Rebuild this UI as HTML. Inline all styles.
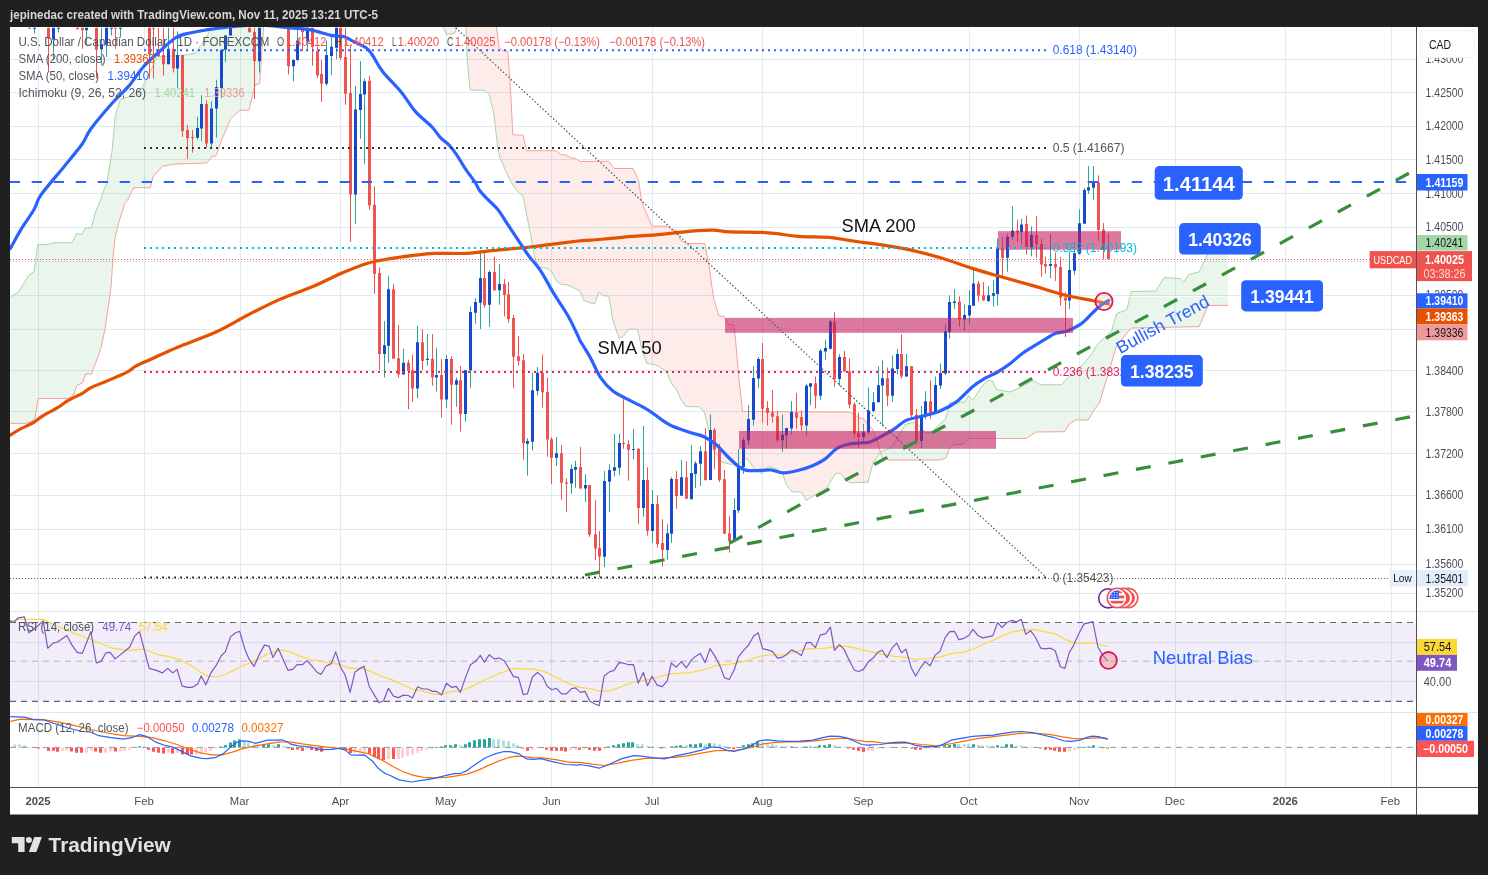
<!DOCTYPE html>
<html lang="en"><head><meta charset="utf-8"><title>USDCAD chart</title>
<style>html,body{margin:0;padding:0;background:#202020;overflow:hidden}svg{display:block;will-change:transform}text{font-family:"Liberation Sans", Arial, sans-serif;white-space:pre}</style></head><body>
<svg width="1488" height="875" viewBox="0 0 1488 875">
<defs>
<clipPath id="cm"><rect x="10" y="27" width="1406.5" height="584.5"/></clipPath>
<clipPath id="cr"><rect x="10" y="611.5" width="1406.5" height="100.9"/></clipPath>
<clipPath id="cd"><rect x="10" y="712.4" width="1406.5" height="74.9"/></clipPath>
</defs>
<rect width="1488" height="875" fill="#202020"/>
<rect x="10" y="27" width="1468" height="787.5" fill="#ffffff"/>
<g stroke="#e0eaf2" stroke-width="1" shape-rendering="crispEdges">
<line x1="38.5" y1="27" x2="38.5" y2="787.3"/>
<line x1="144.4" y1="27" x2="144.4" y2="787.3"/>
<line x1="240.3" y1="27" x2="240.3" y2="787.3"/>
<line x1="340.4" y1="27" x2="340.4" y2="787.3"/>
<line x1="446.4" y1="27" x2="446.4" y2="787.3"/>
<line x1="551.8" y1="27" x2="551.8" y2="787.3"/>
<line x1="652.2" y1="27" x2="652.2" y2="787.3"/>
<line x1="762.4" y1="27" x2="762.4" y2="787.3"/>
<line x1="863.4" y1="27" x2="863.4" y2="787.3"/>
<line x1="969.7" y1="27" x2="969.7" y2="787.3"/>
<line x1="1079.4" y1="27" x2="1079.4" y2="787.3"/>
<line x1="1175.3" y1="27" x2="1175.3" y2="787.3"/>
<line x1="1285.6" y1="27" x2="1285.6" y2="787.3"/>
<line x1="1391.2" y1="27" x2="1391.2" y2="787.3"/>
<line x1="10" y1="59.3" x2="1416.5" y2="59.3"/>
<line x1="10" y1="92.4" x2="1416.5" y2="92.4"/>
<line x1="10" y1="126.3" x2="1416.5" y2="126.3"/>
<line x1="10" y1="159.4" x2="1416.5" y2="159.4"/>
<line x1="10" y1="193.3" x2="1416.5" y2="193.3"/>
<line x1="10" y1="227.2" x2="1416.5" y2="227.2"/>
<line x1="10" y1="261.2" x2="1416.5" y2="261.2"/>
<line x1="10" y1="295.2" x2="1416.5" y2="295.2"/>
<line x1="10" y1="329.6" x2="1416.5" y2="329.6"/>
<line x1="10" y1="370.2" x2="1416.5" y2="370.2"/>
<line x1="10" y1="411.4" x2="1416.5" y2="411.4"/>
<line x1="10" y1="453.2" x2="1416.5" y2="453.2"/>
<line x1="10" y1="495" x2="1416.5" y2="495"/>
<line x1="10" y1="529.1" x2="1416.5" y2="529.1"/>
<line x1="10" y1="564" x2="1416.5" y2="564"/>
<line x1="10" y1="593.3" x2="1416.5" y2="593.3"/>
<line x1="10" y1="642.3" x2="1416.5" y2="642.3"/>
<line x1="10" y1="681.5" x2="1416.5" y2="681.5"/>
</g>
<g clip-path="url(#cm)">
<polygon points="10.3,297 18.5,291.9 28.8,275.4 34,271.3 36,257.9 37.7,244.5 48.4,244.5 53.5,242.7 72,242.7 76.5,233.6 81.9,234.2 85.4,228.1 91.2,228.1 95.7,211.6 100.8,199.3 103.9,190 107,182.5 112,151.7 115.2,116.7 120.4,99.2 131.7,96.1 142,87.9 152.3,67.3 156.4,57 185.2,55 195.5,52.9 205.8,38.5 209.9,30.3 211,26 263.6,26 263.6,26 263.4,30.3 259.7,83.8 255.1,84.8 249,110 239.7,110.5 230.5,118.8 221.2,141.4 216,155.8 211.9,156.8 206.8,163 174.9,164 162.6,166.1 153.3,176.4 150.2,187.7 133.7,187.7 132.7,190 127.6,200 124.5,204.4 118.3,224 114.8,239.4 112.8,260 111.1,286.7 109.1,301.1 104.9,329.9 100.8,348.4 96.7,360 93.6,368 91.6,374 86,374 82.3,383 77.2,385.1 73,396 67.9,398.5 38.1,398.5 35,418.6 30.9,421.7 25.7,423.4 10.3,423.4" fill="rgba(67,160,71,0.11)"/>
<polygon points="465.9,26 467.4,61.2 470,90 484.4,90.4 489.2,94.1 493.7,112.6 497.8,147.6 499.9,157.9 510.2,180.5 516.3,190 523.1,196.2 528.7,225 534.9,257.9 539,267.2 547.2,268.6 552.3,272.3 555.4,279.5 560.6,284.2 566.7,284.7 576,288.8 580,291.2 584.2,300.8 594.4,303.9 598.9,292.2 603.7,295.7 608.8,296.3 612.9,320 619.1,338.5 623.2,336.4 628.4,329.2 637.6,329.2 641.7,348.8 646.9,363.6 655.1,364.6 666.4,371.4 671.6,383.7 676.7,389.9 680.8,399.2 686,406.4 699.3,406.8 704.5,412.6 708.6,430 713.7,450.9 722,462.2 730.2,464.2 738.4,464.2 746.7,458.1 754.9,469.4 762.1,473.5 768.3,466.3 777.5,469.4 782.7,473.5 785.8,483.8 791.9,491.6 801.2,492 806.3,500.2 813.5,496.1 826.9,487.9 835.1,473.9 840.3,473.1 844.4,478.6 849.5,482.8 868.1,482.1 870,474.2 873.1,462.9 878.2,455.7 880.3,452 880.3,452 877.2,439.9 872.1,428.6 868.1,424.9 864,419.1 858.8,417.7 854.7,414.6 849.5,412.1 742.6,411.5 738.4,373.5 735.8,342.6 733.9,325.1 728.1,324.1 724,316.3 718.9,315.8 713.7,298.4 711.7,285 708.6,262.3 707.6,259 704.9,243.6 687,243.6 680.8,240.5 676.7,230.2 671.6,229.8 667.5,226.1 652,226.1 645.8,211.7 641.7,201.4 638.6,180.8 633.1,168.5 614,168.5 608.8,161.3 580.1,161.5 575,158.3 570.9,157.9 565.7,154.8 561.6,154.8 555.4,150.7 526.6,150.7 523.1,135.2 512.8,134.8 511.2,102.3 509.8,77.6 507.7,51.3 501.9,50.5 498.9,46.7 496.4,26" fill="rgba(244,67,54,0.10)"/>
<polygon points="442.3,26 446.4,34.4 454.6,33.4 457.7,26" fill="rgba(244,67,54,0.10)"/>
<polygon points="880.3,452 889.5,448.1 896.7,439.9 900.9,431.7 905,424.5 915.4,422 923.1,429.5 925,432.5 931.3,432.7 939,424.7 945.2,419.5 948.3,409.3 949.5,402.9 964.7,401.9 968.8,395.7 972.9,400.2 981.1,387.4 987.3,380.7 992.4,380.7 996.5,389.5 1009.9,392 1018.1,388.5 1032.6,380.7 1040.8,384.8 1061.4,384.8 1066.5,379.2 1086,361.3 1091.2,354.5 1098.2,343.5 1111.6,331.1 1116.7,313.6 1127,309.5 1131.2,291.6 1155.8,291 1164.1,277.6 1180.5,278.6 1183.6,282.3 1188.8,274.5 1199.1,271.9 1207.3,255 1214,241 1227.9,236 1227.9,305.4 1208.3,305.4 1199.1,326.6 1131.2,328 1116.7,345.5 1106.6,379.2 1099.4,402.9 1093.3,411.1 1088.1,420 1075.8,420 1069.6,423.5 1064.4,431.7 1035.6,432 1026.4,438.5 968.8,438.5 963.6,444 953.3,444.8 949.2,449.5 946.1,457.8 941,460 888.5,460 882.3,457.6 880.3,452" fill="rgba(67,160,71,0.11)"/>
<polyline points="10.3,297 18.5,291.9 28.8,275.4 34,271.3 36,257.9 37.7,244.5 48.4,244.5 53.5,242.7 72,242.7 76.5,233.6 81.9,234.2 85.4,228.1 91.2,228.1 95.7,211.6 100.8,199.3 103.9,190 107,182.5 112,151.7 115.2,116.7 120.4,99.2 131.7,96.1 142,87.9 152.3,67.3 156.4,57 185.2,55 195.5,52.9 205.8,38.5 209.9,30.3 211,26" fill="none" stroke="#a5d6a7" stroke-width="1"/>
<polyline points="10.3,423.4 25.7,423.4 30.9,421.7 35,418.6 38.1,398.5 67.9,398.5 73,396 77.2,385.1 82.3,383 86,374 91.6,374 93.6,368 96.7,360 100.8,348.4 104.9,329.9 109.1,301.1 111.1,286.7 112.8,260 114.8,239.4 118.3,224 124.5,204.4 127.6,200 132.7,190 133.7,187.7 150.2,187.7 153.3,176.4 162.6,166.1 174.9,164 206.8,163 211.9,156.8 216,155.8 221.2,141.4 230.5,118.8 239.7,110.5 249,110 255.1,84.8 259.7,83.8 263.4,30.3 263.6,26" fill="none" stroke="#f5a19b" stroke-width="1"/>
<polyline points="465.9,26 467.4,61.2 470,90 484.4,90.4 489.2,94.1 493.7,112.6 497.8,147.6 499.9,157.9 510.2,180.5 516.3,190 523.1,196.2 528.7,225 534.9,257.9 539,267.2 547.2,268.6 552.3,272.3 555.4,279.5 560.6,284.2 566.7,284.7 576,288.8 580,291.2 584.2,300.8 594.4,303.9 598.9,292.2 603.7,295.7 608.8,296.3 612.9,320 619.1,338.5 623.2,336.4 628.4,329.2 637.6,329.2 641.7,348.8 646.9,363.6 655.1,364.6 666.4,371.4 671.6,383.7 676.7,389.9 680.8,399.2 686,406.4 699.3,406.8 704.5,412.6 708.6,430 713.7,450.9 722,462.2 730.2,464.2 738.4,464.2 746.7,458.1 754.9,469.4 762.1,473.5 768.3,466.3 777.5,469.4 782.7,473.5 785.8,483.8 791.9,491.6 801.2,492 806.3,500.2 813.5,496.1 826.9,487.9 835.1,473.9 840.3,473.1 844.4,478.6 849.5,482.8 868.1,482.1 870,474.2 873.1,462.9 878.2,455.7 880.3,452" fill="none" stroke="#a5d6a7" stroke-width="1"/>
<polyline points="496.4,26 498.9,46.7 501.9,50.5 507.7,51.3 509.8,77.6 511.2,102.3 512.8,134.8 523.1,135.2 526.6,150.7 555.4,150.7 561.6,154.8 565.7,154.8 570.9,157.9 575,158.3 580.1,161.5 608.8,161.3 614,168.5 633.1,168.5 638.6,180.8 641.7,201.4 645.8,211.7 652,226.1 667.5,226.1 671.6,229.8 676.7,230.2 680.8,240.5 687,243.6 704.9,243.6 707.6,259 708.6,262.3 711.7,285 713.7,298.4 718.9,315.8 724,316.3 728.1,324.1 733.9,325.1 735.8,342.6 738.4,373.5 742.6,411.5 849.5,412.1 854.7,414.6 858.8,417.7 864,419.1 868.1,424.9 872.1,428.6 877.2,439.9 880.3,452" fill="none" stroke="#f5a19b" stroke-width="1"/>
<polyline points="442.3,26 446.4,34.4 454.6,33.4 457.7,26" fill="none" stroke="#a5d6a7" stroke-width="1"/>
<polyline points="880.3,452 889.5,448.1 896.7,439.9 900.9,431.7 905,424.5 915.4,422 923.1,429.5 925,432.5 931.3,432.7 939,424.7 945.2,419.5 948.3,409.3 949.5,402.9 964.7,401.9 968.8,395.7 972.9,400.2 981.1,387.4 987.3,380.7 992.4,380.7 996.5,389.5 1009.9,392 1018.1,388.5 1032.6,380.7 1040.8,384.8 1061.4,384.8 1066.5,379.2 1086,361.3 1091.2,354.5 1098.2,343.5 1111.6,331.1 1116.7,313.6 1127,309.5 1131.2,291.6 1155.8,291 1164.1,277.6 1180.5,278.6 1183.6,282.3 1188.8,274.5 1199.1,271.9 1207.3,255 1214,241 1227.9,236" fill="none" stroke="#a5d6a7" stroke-width="1"/>
<polyline points="880.3,452 882.3,457.6 888.5,460 941,460 946.1,457.8 949.2,449.5 953.3,444.8 963.6,444 968.8,438.5 1026.4,438.5 1035.6,432 1064.4,431.7 1069.6,423.5 1075.8,420 1088.1,420 1093.3,411.1 1099.4,402.9 1106.6,379.2 1116.7,345.5 1131.2,328 1199.1,326.6 1208.3,305.4 1227.9,305.4" fill="none" stroke="#f5a19b" stroke-width="1"/>
<line x1="1117" y1="296.5" x2="1241" y2="296.5" stroke="#ffffff" stroke-opacity=".8" stroke-width="1"/>
<path d="M34.5 27.8V33.4M53.5 27.8V60.1M58.5 27.8V32.3M86.5 27.8V44.7M101.5 27.8V65.3M106.5 27.8V57M111.5 27.8V35.4M120.5 27.8V37.5M168.5 27.8V64.2M177.5 31.3V87.9M197.5 116.7V139.3M201.5 95.1V141.4M211.5 101.3V148M216.5 79.7V137.7M221.5 49.8V98.2M225.5 35.4V62.2M230.5 27.8V35.4M259.5 27.8V72.5M293.5 59.1V81.3M297.5 27.8V61.2M307.5 27.8V49.8M326.5 40.6V85.8M331.5 36.5V75.1M336.5 27.8V59.1M355.5 85.8V224M360.5 61.2V138.9M364.5 78.6V164M384.5 321.1V377.5M388.5 276V362.7M403.5 348.8V374.4M417.5 325.8V398.5M427.5 334V365.6M436.5 348V391.5M446.5 355V407.7M456.5 377.5V406.7M465.5 370.3V421.7M470.5 306.3V387.8M475.5 298V323.7M480.5 250.3V328.9M489.5 270.2V326.8M499.5 264.1V304.8M527.5 438.2V475.6M532.5 372.8V450.5M537.5 367V395.6M556.5 437.2V466M571.5 464.3V493.7M575.5 460.8V488M585.5 474.2V502M604.5 471V567.1M609.5 464.2V512M614.5 434V476.6M619.5 434V475.1M633.5 429V459.1M643.5 425.9V516.7M652.5 490V542.8M667.5 524.3V559.9M671.5 477V542.8M681.5 460.1V495.7M691.5 445.1V499.2M695.5 461.2V487.9M700.5 446.1V485.8M710.5 414.6V480.1M734.5 498.2V540.4M738.5 449.2V513M743.5 437.5V473.9M748.5 405.3V445.1M753.5 366.3V425.6M758.5 357V387.9M782.5 414.6V451.9M786.5 428V448.8M791.5 401.2V434.4M806.5 383.7V435.8M810.5 383.3V405.3M820.5 348.8V400.2M825.5 339.9V360.1M830.5 320V349.8M839.5 353.9V385.8M863.5 423.9V443.7M868.5 387.4V434.8M873.5 392V412.1M878.5 366.3V402.3M882.5 360.3V425.5M892.5 355.6V401.9M897.5 349V374.5M906.5 353.9V376.5M921.5 406V448.1M925.5 391.2V419.3M935.5 376.5V412.8M940.5 363.4V388.9M945.5 324.1V375.1M949.5 295.3V338.5M954.5 289.2V309.3M964.5 304.6V330.9M969.5 290.2V323.7M973.5 270V305.8M988.5 286.1V301.9M993.5 279.9V306.7M997.5 238.4V305.6M1007.5 233.6V271.7M1012.5 206.3V239.8M1021.5 218.8V244.9M1031.5 226.4V256.3M1050.5 234.2V278.3M1069.5 251.1V309.3M1074.5 242.9V274.8M1079.5 209.3V254.8M1084.5 187.9V223.7M1088.5 166.1V193.9M1093.5 166.1V200.1" stroke="#26a69a" stroke-width="1" fill="none"/>
<path d="M29.5 27.8V28.6M48.5 27.8V71.4M77.5 27.8V29.3M82.5 27.8V48.8M96.5 27.8V78.6M115.5 27.8V48.8M149.5 27.8V78.6M153.5 27.8V78.6M158.5 27.8V57M163.5 27.8V75.6M173.5 27.8V72.5M182.5 55V136.9M187.5 124.9V158.9M192.5 130.1V152.7M206.5 100.2V148M249.5 27.8V32.3M254.5 27.8V99.2M288.5 27.8V74.5M302.5 27.8V50.9M312.5 27.8V65.7M317.5 46.7V78.2M321.5 60.1V101.9M340.5 27.8V60.1M345.5 27.8V104.8M350.5 44.7V241.9M369.5 75.6V210M374.5 186.3V293.9M379.5 267.2V369.9M393.5 284V358.7M398.5 325.2V377.5M408.5 359.8V409.4M412.5 354.6V401.8M422.5 329.3V369.9M432.5 334V385.7M441.5 359.1V417.6M451.5 356.3V424.8M460.5 365.9V431.6M484.5 250.3V307.7M494.5 256.9V290.8M504.5 279.1V316.5M508.5 282V322.7M513.5 314.9V387.8M518.5 336.1V365.6M523.5 354V459.8M542.5 354.6V407.7M547.5 377.5V456.7M551.5 437.2V483.9M561.5 445V499.9M566.5 478.3V511.9M580.5 447V488.6M589.5 485.1V536.9M595.5 500.2V559.9M599.5 531.1V577.4M623.5 399.2V448.8M628.5 440.2V480.7M638.5 447.8V523.9M647.5 467.3V535.6M657.5 495.1V547.6M662.5 519.2V566.7M676.5 471V508.9M686.5 461.2V498.8M705.5 428.2V480.7M714.5 428V469.4M719.5 443.7V482.1M724.5 470V533.8M729.5 516.1V552.7M762.5 343V422.7M767.5 401.2V425.6M772.5 389.9V422.7M777.5 411.5V441.6M796.5 393V428.6M801.5 410.5V430.7M815.5 376.5V408.4M834.5 312.1V386.8M844.5 350.8V371.4M849.5 358.4V408.4M854.5 402.3V437.5M858.5 412.6V447.8M887.5 367.5V406M901.5 334.4V378.6M911.5 366.3V420M916.5 409.1V444M930.5 380.2V418.9M959.5 296.4V326.7M978.5 280.9V301.5M983.5 282V300.5M1002.5 236.7V275.8M1017.5 219.8V242.3M1026.5 215.5V254.6M1036.5 216.1V257.7M1041.5 238.8V276.8M1045.5 256.9V273.7M1055.5 252.8V280.9M1060.5 257.3V305.6M1065.5 292.3V337M1098.5 175.4V240.8M1103.5 222.9V259.3M1108.5 233V259.3" stroke="#ef5350" stroke-width="1" fill="none"/>
<path d="M33 27.8h3v1h-3zM52 27.8h3v11.7h-3zM57 27.8h3v1h-3zM85 27.8h3v2.5h-3zM100 44.3h3v4.9h-3zM105 27.8h3v16.9h-3zM110 27.8h3v1h-3zM119 27.8h3v1h-3zM167 48.8h3v15.4h-3zM176 55h3v13.4h-3zM196 128h3v9.7h-3zM200 104h3v24.4h-3zM210 108.5h3v35h-3zM215 86.9h3v21.6h-3zM220 49.8h3v38.1h-3zM224 35.4h3v14.4h-3zM229 27.8h3v7.6h-3zM258 27.8h3v33.4h-3zM292 60.1h3v6.2h-3zM296 40.6h3v19.5h-3zM306 27.8h3v13.8h-3zM325 55h3v28.8h-3zM330 46.7h3v9.3h-3zM335 27.8h3v20h-3zM354 109.5h3v85h-3zM359 94.1h3v15.8h-3zM363 81.3h3v13.2h-3zM383 345.3h3v8.7h-3zM387 289.2h3v56.6h-3zM402 362.8h3v11.6h-3zM416 342.3h3v46.1h-3zM426 358.7h3v1.3h-3zM435 375h3v2.5h-3zM445 359.1h3v40.4h-3zM455 380.2h3v4.5h-3zM464 370.3h3v43.6h-3zM469 312h3v58.3h-3zM474 302.1h3v10.7h-3zM479 278.1h3v24.7h-3zM488 271.9h3v32.9h-3zM498 284h3v6.2h-3zM526 440.9h3v2.8h-3zM531 390.2h3v51.5h-3zM536 372.8h3v18.1h-3zM555 453.2h3v4.5h-3zM570 469.1h3v14.4h-3zM574 467h3v2.7h-3zM584 485.1h3v3.5h-3zM603 481.1h3v75.7h-3zM608 470h3v11.7h-3zM613 467.3h3v3.5h-3zM618 443h3v24.7h-3zM632 449h3v1h-3zM642 480.1h3v27.8h-3zM651 504h3v27.1h-3zM666 533.2h3v16.8h-3zM670 479.1h3v54.7h-3zM680 477.2h3v18.5h-3zM690 473.1h3v26.1h-3zM694 463.2h3v10.7h-3zM699 451.3h3v12.5h-3zM709 429.9h3v50.2h-3zM733 509.9h3v30.5h-3zM737 466.3h3v44.2h-3zM742 440.2h3v26.7h-3zM747 419.1h3v21.5h-3zM752 378h3v41.8h-3zM757 359.1h3v19.5h-3zM781 434.8h3v5.4h-3zM785 428h3v7.4h-3zM790 412.1h3v16.5h-3zM805 385.8h3v39.8h-3zM809 383.3h3v3.5h-3zM819 350.8h3v44.9h-3zM824 348.1h3v3.5h-3zM829 321.6h3v27.2h-3zM838 357h3v22h-3zM862 432.3h3v4.6h-3zM867 410.5h3v21.8h-3zM872 402.3h3v8.8h-3zM877 385.2h3v17.1h-3zM881 378.2h3v7.2h-3zM891 368.5h3v27.2h-3zM896 354.1h3v14.8h-3zM905 366.3h3v10.2h-3zM920 415.2h3v25.7h-3zM924 401.2h3v14.4h-3zM934 385h3v27.1h-3zM939 373h3v12.4h-3zM944 331.3h3v42.2h-3zM948 302.1h3v29.8h-3zM953 301.5h3v1.5h-3zM963 314.9h3v4.6h-3zM968 305.2h3v10.2h-3zM972 283.4h3v22.4h-3zM987 295.3h3v5.6h-3zM992 293.3h3v2.5h-3zM996 248h3v45.9h-3zM1006 236.7h3v21h-3zM1011 230.5h3v6.2h-3zM1020 224.4h3v7.6h-3zM1030 235.1h3v11.9h-3zM1049 264.1h3v2h-3zM1068 270h3v30.5h-3zM1073 253.2h3v17.5h-3zM1078 223.3h3v30.5h-3zM1083 190h3v33.7h-3zM1087 187.3h3v3.1h-3zM1092 182.6h3v5.1h-3z" fill="#1848cc"/>
<path d="M28 27.8h3v1h-3zM47 27.8h3v10.7h-3zM76 27.8h3v1.5h-3zM81 27.8h3v2.5h-3zM95 27.8h3v22h-3zM114 27.8h3v1h-3zM148 27.8h3v26.2h-3zM152 27.8h3v1h-3zM157 49.8h3v6.2h-3zM162 55h3v9.2h-3zM172 48.8h3v19.6h-3zM181 55h3v76.1h-3zM186 130.1h3v8.2h-3zM191 136.9h3v1h-3zM205 104h3v39.5h-3zM248 27.8h3v4.5h-3zM253 31.9h3v29.3h-3zM287 27.8h3v38.5h-3zM301 27.8h3v4.5h-3zM311 27.8h3v18.9h-3zM316 50.9h3v24.7h-3zM320 73.9h3v9.9h-3zM339 27.8h3v30.3h-3zM344 57h3v36.7h-3zM349 93h3v101.5h-3zM368 80.7h3v124.7h-3zM373 204.8h3v69.2h-3zM378 272.9h3v81.1h-3zM392 289.2h3v69.5h-3zM397 358.3h3v16.1h-3zM407 362.8h3v7.9h-3zM411 370.3h3v18.1h-3zM421 342.3h3v18.7h-3zM431 359.1h3v18.4h-3zM440 375h3v24.5h-3zM450 359.1h3v25.6h-3zM459 380.2h3v33.7h-3zM483 278.1h3v27.1h-3zM493 271.9h3v18.3h-3zM503 284h3v10.9h-3zM507 294.3h3v24.9h-3zM512 318h3v38.7h-3zM517 356.3h3v4.7h-3zM522 360.2h3v83.1h-3zM541 372.8h3v19.5h-3zM546 391.9h3v47.7h-3zM550 439.2h3v18.5h-3zM560 453.2h3v29.6h-3zM565 482.4h3v1.3h-3zM579 467h3v21.6h-3zM588 485.1h3v49.7h-3zM594 534.2h3v14.4h-3zM598 548h3v8.8h-3zM622 443h3v1.3h-3zM627 444.3h3v5.5h-3zM637 448.8h3v59.1h-3zM646 480.1h3v51h-3zM656 504h3v39.9h-3zM661 543h3v7h-3zM675 479.1h3v17h-3zM685 477.2h3v21.6h-3zM704 451.3h3v28.8h-3zM713 429.9h3v19.9h-3zM718 448.8h3v31.3h-3zM723 479.3h3v54.5h-3zM728 533.2h3v7.8h-3zM761 359.1h3v49.7h-3zM766 408h3v5h-3zM771 412.6h3v4.1h-3zM776 416.3h3v23.9h-3zM795 412.6h3v5.1h-3zM800 417.1h3v8.5h-3zM814 383.3h3v12.4h-3zM833 322h3v57h-3zM843 357h3v14.4h-3zM848 371.4h3v33.3h-3zM853 404.3h3v29.1h-3zM857 432.8h3v4.1h-3zM886 378.2h3v17.5h-3zM900 354.1h3v22.4h-3zM910 366.3h3v48.9h-3zM915 414.8h3v26.1h-3zM929 401.2h3v10.9h-3zM958 301.5h3v18h-3zM977 283.4h3v12.4h-3zM982 295.3h3v5.2h-3zM1001 248h3v9.7h-3zM1016 230.5h3v2.1h-3zM1025 224h3v23h-3zM1035 235.1h3v9.2h-3zM1040 243.9h3v20.6h-3zM1044 264.1h3v2.4h-3zM1054 264.1h3v3.5h-3zM1059 267h3v30.8h-3zM1064 297.4h3v3.1h-3zM1097 182.6h3v47.3h-3zM1102 229.5h3v19.6h-3zM1107 249.1h3v10.2h-3z" fill="#ef5350"/>
<path d="M10.3 435.1C12.0 434.1 16.8 430.9 20.6 428.9C24.4 426.8 29.1 425.0 32.9 422.8C36.7 420.6 39.1 418.1 43.2 415.6C47.3 413.1 53.5 410.2 57.6 407.7C61.7 405.2 63.8 403.1 67.9 400.7C72.0 398.3 78.5 395.4 82.3 393.3C86.1 391.2 86.4 389.9 90.5 387.8C94.6 385.8 100.8 383.6 107 381C113.2 378.4 122.8 374.4 127.6 371.9C132.4 369.4 131.8 368.3 135.8 366.2C139.8 364.1 144.6 362.1 151.5 359C158.4 355.9 166.2 351.9 177 347.4C187.8 342.9 204.3 337.3 216 332C227.7 326.7 237.3 320.5 246.9 315.5C256.5 310.5 266.5 305.5 273.7 302.1C280.9 298.7 283.2 298.0 290 295.3C296.8 292.6 306.1 289.4 314.7 285.7C323.3 282.0 332.8 277.0 341.4 273.3C350.0 269.6 358.2 266.1 366.1 263.7C374.0 261.3 380.9 260.3 388.8 258.9C396.7 257.5 406.0 256.3 413.5 255.4C421.0 254.5 425.1 253.7 434 253.4C442.9 253.1 458.4 253.8 467 253.4C475.6 253.1 479.0 252.0 485.5 251.3C492.0 250.6 499.5 249.9 506 249.3C512.5 248.7 517.7 248.3 524.6 247.6C531.5 246.9 538.3 246.0 547.2 244.9C556.1 243.8 571.0 241.8 578.1 241C585.2 240.2 584.5 240.6 590 240.2C595.5 239.8 604.0 239.0 610.9 238.4C617.8 237.8 623.5 237.0 631.4 236.4C639.3 235.8 650.7 235.3 658.2 234.7C665.8 234.1 670.2 233.4 676.7 232.7C683.2 232.0 691.1 231.0 697.3 230.6C703.5 230.2 708.2 230.0 713.7 230.2C719.2 230.4 722.3 231.6 730.2 231.9C738.1 232.2 753.2 232.0 761.1 232.3C769.0 232.6 771.3 233.0 777.5 233.7C783.7 234.4 789.5 235.8 798.1 236.4C806.7 237.0 820.8 236.8 829 237.4C837.2 238.0 841.7 239.2 847.5 240.1C853.3 241.0 858.6 241.8 864 242.6C869.4 243.3 872.1 243.3 880 244.6C887.9 245.8 900.9 247.8 911.2 250.1C921.5 252.4 931.7 255.2 942 258.3C952.3 261.4 963.6 265.7 972.9 268.6C982.2 271.5 987.3 272.9 997.6 275.8C1007.9 278.7 1023.3 282.9 1034.6 286.1C1045.9 289.4 1055.9 292.9 1065.5 295.3C1075.1 297.7 1085.0 299.1 1092.2 300.5C1099.4 301.9 1106.0 303.4 1108.7 304" fill="none" stroke="#e65100" stroke-width="3.2" stroke-linejoin="round" stroke-linecap="round"/>
<path d="M10.3 248.6C12.0 245.5 16.7 236.6 20.6 230.1C24.6 223.6 30.6 215.4 34 209.5C37.4 203.6 36.1 201.8 41 194.8C45.9 187.8 56.5 175.9 63.4 167.4C70.3 158.9 77.6 150.4 82.2 144C86.8 137.6 85.7 135.9 90.8 129C95.9 122.0 106.7 109.4 113 102.3C119.3 95.2 123.3 92.4 128.5 86.4C133.7 80.4 138.5 72.2 143.9 66.2C149.3 60.2 155.7 54.9 161 50.1C166.3 45.3 171.2 40.4 176 37.5C180.8 34.6 185.0 34.2 190 33C195.0 31.8 200.0 30.9 206 30C212.0 29.1 217.3 28.1 226 27.3C234.7 26.5 247.3 24.9 258 25C268.7 25.1 281.2 27.0 290 27.8C298.8 28.6 303.7 28.6 310.6 29.9C317.5 31.2 325.7 34.3 331.2 35.4C336.7 36.5 340.1 35.6 343.5 36.5C346.9 37.4 347.9 38.7 351.7 40.6C355.5 42.5 362.7 45.4 366.1 47.8C369.5 50.2 369.6 51.1 372.3 55C375.1 58.9 377.8 65.2 382.6 71.4C387.4 77.6 395.6 85.3 401.1 92C406.6 98.7 410.4 105.8 415.5 111.6C420.6 117.4 427.9 122.7 432 127C436.1 131.3 437.3 134.2 440.2 137.3C443.1 140.4 446.8 142.6 449.5 145.5C452.2 148.4 454.1 151.0 456.7 154.8C459.3 158.6 461.8 163.5 464.9 168.1C468.0 172.7 472.8 178.8 475.2 182.5C477.6 186.2 477.6 187.6 479.3 190C481.0 192.4 482.4 193.9 485.5 197.2C488.6 200.4 494.0 204.9 497.8 209.5C501.6 214.1 504.0 218.8 508.1 225C512.2 231.2 519.1 241.5 522.5 246.6C525.9 251.7 525.6 251.7 528.7 255.8C531.8 259.9 536.9 265.1 541 271.3C545.1 277.5 548.9 285.5 553.4 292.9C557.9 300.3 563.7 308.3 567.8 315.5C571.9 322.7 576.1 331.9 578.1 336.1C580.1 340.3 578.0 336.9 580 340.5C582.0 344.1 586.9 351.3 590.3 357.5C593.7 363.7 596.8 372.0 600.6 377.6C604.4 383.2 608.8 387.6 612.9 391C617.0 394.4 620.5 395.5 625.3 398.1C630.1 400.7 637.2 404.0 641.7 406.4C646.2 408.8 648.6 410.3 652 412.6C655.4 414.9 658.6 417.7 662 420C665.4 422.3 667.8 424.1 672.6 426.2C677.5 428.3 686.0 431.1 691.1 432.8C696.2 434.5 699.4 434.6 703.5 436.5C707.6 438.4 711.7 440.9 715.8 444.3C719.9 447.7 724.3 453.3 728.1 457C731.9 460.7 735.3 464.1 738.4 466.3C741.5 468.5 742.9 469.7 746.7 470.4C750.5 471.1 757.0 470.5 761.1 470.4C765.2 470.3 767.6 469.6 771.4 470C775.2 470.4 778.9 472.9 783.7 472.9C788.5 472.9 795.4 471.0 800.2 469.8C805.0 468.6 808.4 467.5 812.5 465.7C816.6 463.9 821.1 461.8 824.9 459.1C828.7 456.5 832.4 451.9 835.1 449.8C837.8 447.7 838.5 447.3 841.3 446.3C844.0 445.3 847.8 444.3 851.6 443.7C855.4 443.1 860.9 442.9 864 442.6C867.1 442.3 867.0 443.1 870 442C873.0 440.9 878.2 438.0 882.3 435.8C886.4 433.6 890.8 431.2 894.7 428.6C898.7 426.0 901.5 422.4 906 420.4C910.5 418.3 915.7 417.9 921.4 416.3C927.1 414.8 934.2 413.5 940 411.1C945.8 408.7 950.9 406.0 956.4 401.9C961.9 397.8 968.1 390.3 972.9 386.4C977.7 382.4 981.1 380.6 985.2 378.2C989.3 375.8 993.5 374.4 997.6 372C1001.7 369.6 1005.8 366.9 1009.9 363.8C1014.0 360.7 1018.2 356.5 1022.3 353.5C1026.4 350.5 1030.5 348.3 1034.6 345.7C1038.7 343.1 1043.6 340.1 1047 338.1C1050.4 336.1 1051.8 334.7 1055.2 333.5C1058.6 332.3 1063.4 332.4 1067.5 330.9C1071.6 329.4 1076.5 326.9 1079.9 324.7C1083.3 322.5 1085.4 320.1 1088.1 317.5C1090.8 314.9 1093.9 311.5 1096.3 309.3C1098.7 307.1 1100.4 305.6 1102.5 304.1C1104.6 302.6 1107.7 301.1 1108.7 300.5" fill="none" stroke="#2962ff" stroke-width="3.2" stroke-linejoin="round" stroke-linecap="round"/>
<rect x="998" y="231.2" width="123" height="18.5" fill="rgba(194,24,91,0.58)"/>
<rect x="725.1" y="317.9" width="347.9" height="14.9" fill="rgba(194,24,91,0.58)"/>
<rect x="739" y="431" width="257" height="17.8" fill="rgba(194,24,91,0.58)"/>
<line x1="144" y1="50.2" x2="1046.5" y2="50.2" stroke="#2962ff" stroke-width="2" stroke-dasharray="2 4"/>
<line x1="144" y1="148" x2="1046.5" y2="148" stroke="#333333" stroke-width="1.9" stroke-dasharray="2 4"/>
<line x1="144" y1="248" x2="1046.5" y2="248" stroke="#00bcd4" stroke-width="2" stroke-dasharray="2 4"/>
<line x1="144" y1="372" x2="1046.5" y2="372" stroke="#e91e63" stroke-width="2" stroke-dasharray="2 4"/>
<line x1="144" y1="577.4" x2="1046.5" y2="577.4" stroke="#333333" stroke-width="1.9" stroke-dasharray="2 4"/>
<line x1="10" y1="578.5" x2="1388" y2="578.5" stroke="#666" stroke-width="1" stroke-dasharray="1 2" shape-rendering="crispEdges"/>
<line x1="10" y1="259.5" x2="1416.5" y2="259.5" stroke="#ef5350" stroke-width="1" stroke-dasharray="1 2" shape-rendering="crispEdges"/>
<line x1="455.6" y1="27.8" x2="1046" y2="577" stroke="#4a4a4a" stroke-width="1.2" stroke-dasharray="1.4 2.2"/>
<text x="1052.7" y="54.12" font-size="12" fill="#2962ff" textLength="84.2" lengthAdjust="spacingAndGlyphs">0.618 (1.43140)</text>
<text x="1052.7" y="152.12" font-size="12" fill="#555555" textLength="71.8" lengthAdjust="spacingAndGlyphs">0.5 (1.41667)</text>
<text x="1052.7" y="252.32" font-size="12" fill="#00bcd4" textLength="84.2" lengthAdjust="spacingAndGlyphs">0.382 (1.40193)</text>
<text x="1052.7" y="376.32" font-size="12" fill="#e91e63" textLength="84.2" lengthAdjust="spacingAndGlyphs">0.236 (1.38329)</text>
<text x="1052.7" y="581.72" font-size="12" fill="#555555" textLength="60.7" lengthAdjust="spacingAndGlyphs">0 (1.35423)</text>
<line x1="9.7" y1="182" x2="1416.5" y2="182" stroke="#2962ff" stroke-width="2" stroke-dasharray="10.3 11.7"/>
<g stroke="#388e3c" stroke-width="3.2" stroke-dasharray="15 18" fill="none">
<line x1="585" y1="575" x2="1410" y2="416.9"/>
<line x1="729.2" y1="543.4" x2="1410" y2="172.7"/>
</g>
<text x="597.5" y="353.6" font-size="18.5" fill="#111111" textLength="64.3" lengthAdjust="spacingAndGlyphs">SMA 50</text>
<text x="841.6" y="232.2" font-size="18.5" fill="#111111" textLength="74.2" lengthAdjust="spacingAndGlyphs">SMA 200</text>
<g transform="translate(1120.3,354.2) rotate(-28.6)">
<text x="0" y="0" font-size="17.5" fill="#2962ff" textLength="103" lengthAdjust="spacingAndGlyphs">Bullish Trend</text>
</g>
<circle cx="1104" cy="301.5" r="8.6" fill="rgba(255,183,130,0.28)" stroke="#d81b60" stroke-width="1.8"/>
<rect x="1154.7" y="166.1" width="88.1" height="33.6" rx="4.5" fill="#2962ff"/>
<text x="1198.75" y="190.572" font-size="20.2" fill="#ffffff" font-weight="bold" text-anchor="middle">1.41144</text>
<rect x="1179.1" y="223.1" width="81.7" height="31.5" rx="4.5" fill="#2962ff"/>
<text x="1219.95" y="245.586" font-size="17.6" fill="#ffffff" font-weight="bold" text-anchor="middle">1.40326</text>
<rect x="1241.2" y="280.3" width="81.8" height="31.1" rx="4.5" fill="#2962ff"/>
<text x="1282.1" y="302.586" font-size="17.6" fill="#ffffff" font-weight="bold" text-anchor="middle">1.39441</text>
<rect x="1120.9" y="355.1" width="81.9" height="31.5" rx="4.5" fill="#2962ff"/>
<text x="1161.85" y="377.586" font-size="17.6" fill="#ffffff" font-weight="bold" text-anchor="middle">1.38235</text>
<rect x="1369.7" y="251.1" width="46.8" height="17.2" fill="#ef5350"/>
<text x="1373.5" y="264.04" font-size="11.5" fill="#ffffff" textLength="38.5" lengthAdjust="spacingAndGlyphs">USDCAD</text>
<g fill="#ffffff" stroke-width="1.6">
<circle cx="1108.3" cy="598.3" r="9.6" stroke="#7b1fa2"/>
<circle cx="1128" cy="598" r="9.8" stroke="#ef5350"/><circle cx="1128" cy="598" r="7" fill="#ef5350" stroke="none"/>
<circle cx="1123" cy="598" r="9.8" stroke="#ef5350"/><circle cx="1123" cy="598" r="7" fill="#ef5350" stroke="none"/>
<circle cx="1117.1" cy="598" r="9.8" stroke="#ef5350"/>
</g>
<clipPath id="fl"><circle cx="1117.1" cy="598" r="7.6"/></clipPath>
<g clip-path="url(#fl)"><rect x="1109" y="590" width="17" height="16" fill="#fff"/>
<rect x="1109" y="590.4" width="17" height="2.7" fill="#ef5350"/>
<rect x="1109" y="595.6" width="17" height="2.7" fill="#ef5350"/>
<rect x="1109" y="600.8" width="17" height="2.7" fill="#ef5350"/>
<rect x="1109" y="590" width="10" height="9" fill="#2962ff"/><g fill="#fff" fill-opacity=".75"><rect x="1111.2" y="592" width="1.2" height="1.1"/><rect x="1111.2" y="594.4" width="1.2" height="1.1"/><rect x="1111.2" y="596.8" width="1.2" height="1.1"/><rect x="1113.8" y="592" width="1.2" height="1.1"/><rect x="1113.8" y="594.4" width="1.2" height="1.1"/><rect x="1113.8" y="596.8" width="1.2" height="1.1"/><rect x="1116.4" y="592" width="1.2" height="1.1"/><rect x="1116.4" y="594.4" width="1.2" height="1.1"/><rect x="1116.4" y="596.8" width="1.2" height="1.1"/></g></g>
</g>
<g clip-path="url(#cr)">
<rect x="10" y="622.5" width="1406.5" height="78.8" fill="rgba(126,87,194,0.1)"/>
<line x1="10" y1="622.5" x2="1416.5" y2="622.5" stroke="#63656e" stroke-width="1.2" stroke-dasharray="6 5"/>
<line x1="10" y1="701.3" x2="1416.5" y2="701.3" stroke="#63656e" stroke-width="1.2" stroke-dasharray="6 5"/>
<line x1="10" y1="661.2" x2="1416.5" y2="661.2" stroke="#b2b5be" stroke-width="1" stroke-dasharray="6 5"/>
<polyline points="10.3,621.5 20.6,619 43.2,619.4 53.5,624.5 67.9,630.7 82.3,636.3 96.7,642 111.1,647.8 127.6,650.3 144,649.2 158.4,654.8 168.7,656.4 181.1,660.1 191.4,665.7 201.6,672.9 207.8,676 216,677 224.3,675 240.7,666.7 255.1,660.6 267.5,654 281.9,649.9 290,651.9 300.3,656.4 310.6,659.5 325,662.2 339.4,664.3 349.7,668.4 360,668.4 368.2,670.4 380.5,676 392.9,680.1 403.2,685.2 413.5,689.4 423.7,691.4 434,694.5 442.3,693.9 452.6,691.4 460.8,691 471.1,686.9 481.4,681.5 491.6,677 501.9,672.5 511.2,669.2 518.4,668.4 526.6,669.2 534.9,669.2 545.1,671.9 555.4,677 565.7,682.2 576,686.3 580,687.3 592.3,689 600.6,691.4 610.9,690.4 621.2,686.7 633.5,682.2 645.8,680.1 658.2,677 670.5,673.9 691.1,672.5 703.5,669.8 715.8,665.7 728.1,664.3 738.4,662.6 750.8,659.5 759,656.4 769.3,655 783.7,655 794,651.9 806.3,649.2 824.9,648.2 835.1,646.8 845.4,646.2 855.7,648.2 864,650.3 870,651.3 882.3,654.4 894.7,656.4 907,657.5 917.3,659.5 929.7,658.5 940,656.9 952.3,653.4 964.7,651.9 972.9,649.2 983.2,644.5 993.5,640 1001.7,635.9 1012,632.2 1022.3,630.1 1034.6,629.3 1044.9,631.7 1055.2,633.8 1065.5,639.6 1075.8,643.1 1084,643.5 1092.2,642.7 1100.5,644.5 1107.7,646.6" fill="none" stroke="#fdd835" stroke-width="1.2" stroke-linejoin="round"/>
<polyline points="10.3,620.4 13.4,622.5 18.5,617.8 24.3,616.9 28.8,632.8 34,629.3 43.2,621 47.7,648.2 53.1,643.1 57.6,642 66.9,635.5 72,645.1 77.2,652.3 82.3,653.4 90.9,631.7 96.3,663 100.8,661.6 106,652.7 110.1,652.3 115.2,658.9 129.6,647.2 134.8,635.9 139.5,631.7 149.2,668.4 156.4,670.4 162.6,672.9 167.7,668.4 172.8,672.9 177,669.4 182.1,685.9 187.2,687.3 192.4,687.3 197.5,684.2 201.2,676 205.8,684.8 210.9,672.9 216,665.7 221.2,655.8 225.3,651.9 230.5,636.9 235.6,632.8 239.7,631.3 244.9,649.2 249,658.9 254.1,666.3 259.3,654.4 264.4,645.1 269.1,646.2 273,657.5 278.2,648.2 282.9,658.9 288.1,670.4 293.1,669.2 297.2,664.7 302.3,664.7 306.9,660.6 311.6,665.7 316.7,671.9 320.9,674.5 326,666.3 331.2,663.6 335.7,651.9 340.4,666.7 345.1,675 350.1,692.4 355,671.9 360,668.4 364.1,666.3 369.2,686.3 374.4,695.1 378.9,702.7 383.6,700.7 388.4,688.3 393.5,696.2 398.4,697.6 403.4,695.1 408.3,695.5 412.4,698 417.6,686.7 422.7,689 427.4,689 432.4,691.4 436.5,691.4 441.6,694.9 446.4,683.2 451.5,687.3 456.3,686.3 460.4,692.4 465.5,677.4 470.5,664.7 475.4,661.6 480.3,655.4 484.4,662.2 489.2,654.8 494.3,658.9 499.5,658.1 504.4,661 508.5,667.8 513.5,676.6 518.4,677.4 523.3,694.5 527.4,693.9 532.4,677 537.5,672.5 542.5,676.6 547.2,686.3 551.7,689.8 556.5,688.3 561.6,693.9 566.5,693.9 571.5,688.7 575.4,687.9 580.5,692.4 585.1,691.4 589.9,701.3 594.4,703.8 599.1,705.8 604.1,676 609.4,671.9 614,670.4 619.1,662.6 623.6,663.2 628.6,664.7 633.5,664.7 638.2,683.2 643.4,672.5 647.5,685.7 652,676.4 657.2,685.2 662.3,686.7 667.4,680.7 671.2,663 676.1,667.1 681.4,661.6 686.4,667.8 691.3,660.1 695.4,656.4 700.4,653.4 705.1,662.6 710,648.6 715,656.4 719.5,664.7 724.4,677.6 729.2,679.5 734.3,669.8 738.4,656.9 743.6,650.3 748.5,645.1 753.5,636.3 758.2,632.8 762.5,648.6 767.4,649.9 772.4,651.3 777.5,658.1 782.5,657.1 786.4,654.8 791.5,649.9 796.5,652.3 801.4,655.4 806.3,642.7 810.5,642.4 815.4,647.6 820.3,634.8 825.5,633.8 830.4,627.2 834.5,650.3 839.5,644.7 844.4,649.9 849.5,661 854.5,670.2 858.6,671.5 863.5,669.4 868.5,661.6 873.1,658.1 877.8,652.3 882.3,650.3 886.9,657.5 892,648.2 896.7,643.1 901.5,652.7 906,649.2 911.2,667.8 915.7,676 920.4,667.8 925.1,661.6 930.1,665.7 935,655.4 940,651.3 945.1,637.9 949.6,631.7 954.4,631.3 958.9,639.6 964,638.3 968.8,635.5 972.9,629.3 978,635.5 982.8,637.9 987.7,636.9 992.8,635.9 997.6,622.5 1002.1,627.6 1006.8,622.5 1012,620.4 1016.5,621.9 1021.2,619.4 1025.8,634.4 1030.5,630.7 1035.6,637.5 1040.8,648.2 1045.3,648.8 1050.5,648.2 1055.2,650.7 1060.3,666.7 1064.9,668.4 1069.2,652.7 1073.7,645.1 1078.8,633.8 1084,623.9 1088.5,622.9 1092.8,621.5 1098,647.2 1102.9,655.4 1107.7,661" fill="none" stroke="#7e57c2" stroke-width="1.2" stroke-linejoin="round"/>
<circle cx="1108.5" cy="660.4" r="8.4" fill="rgba(239,130,120,0.4)" stroke="#d81b60" stroke-width="1.8"/>
<text x="1152.7" y="664" font-size="18.5" fill="#2962ff" textLength="100.4" lengthAdjust="spacingAndGlyphs">Neutral Bias</text>
</g>
<g clip-path="url(#cd)">
<path d="M138 746.2h3v1.2h-3zM219 746.6h3v0.8h-3zM224 745.3h3v2.1h-3zM229 742.4h3v5h-3zM233 740.4h3v7h-3zM238 739.2h3v8.2h-3zM262 744.9h3v2.5h-3zM267 744.3h3v3.1h-3zM277 744.3h3v3.1h-3zM435 747h3v0.8h-3zM440 746.6h3v0.8h-3zM444 745.3h3v2.1h-3zM449 745.3h3v2.1h-3zM454 744.3h3v3.1h-3zM464 744.3h3v3.1h-3zM468 742.2h3v5.2h-3zM473 740.2h3v7.2h-3zM478 739.2h3v8.2h-3zM483 739.2h3v8.2h-3zM488 738.1h3v9.3h-3zM607 746.4h3v1h-3zM612 745.3h3v2.1h-3zM617 744.3h3v3.1h-3zM622 743.3h3v4.1h-3zM627 742.2h3v5.2h-3zM631 742.2h3v5.2h-3zM670 746.4h3v1h-3zM675 745.9h3v1.5h-3zM679 745.3h3v2.1h-3zM689 744.3h3v3.1h-3zM694 744.3h3v3.1h-3zM699 743.3h3v4.1h-3zM708 743.3h3v4.1h-3zM737 747h3v0.8h-3zM742 745.3h3v2.1h-3zM747 744.3h3v3.1h-3zM751 743.3h3v4.1h-3zM756 741.2h3v6.2h-3zM790 746.4h3v1h-3zM795 747h3v0.8h-3zM804 746.4h3v1h-3zM809 746.4h3v1h-3zM818 745.3h3v2.1h-3zM823 745.3h3v2.1h-3zM828 744.3h3v3.1h-3zM895 747h3v0.8h-3zM905 747h3v0.8h-3zM943 745.3h3v2.1h-3zM948 744.9h3v2.5h-3zM953 743.9h3v3.5h-3zM972 744.3h3v3.1h-3zM996 745.3h3v2.1h-3zM1005 744.3h3v3.1h-3zM1010 744.3h3v3.1h-3zM1083 747h3v0.8h-3zM1087 746.4h3v1h-3zM1092 745.3h3v2.1h-3z" fill="#26a69a"/>
<path d="M13 744.5h3v2.9h-3zM18 744.5h3v2.9h-3zM23 745.3h3v2.1h-3zM27 746.8h3v0.8h-3zM243 741.8h3v5.6h-3zM247 742.4h3v5h-3zM253 744.5h3v2.9h-3zM257 745.3h3v2.1h-3zM272 745.3h3v2.1h-3zM282 745.9h3v1.5h-3zM459 745.3h3v2.1h-3zM492 739.2h3v8.2h-3zM497 739.2h3v8.2h-3zM502 740.2h3v7.2h-3zM507 741.2h3v6.2h-3zM512 743.3h3v4.1h-3zM516 745.3h3v2.1h-3zM636 744.3h3v3.1h-3zM641 744.3h3v3.1h-3zM646 745.9h3v1.5h-3zM651 746.4h3v1h-3zM656 746.8h3v0.8h-3zM685 745.3h3v2.1h-3zM704 744.3h3v3.1h-3zM713 743.3h3v4.1h-3zM718 744.3h3v3.1h-3zM723 745.9h3v1.5h-3zM761 742.2h3v5.2h-3zM766 744.3h3v3.1h-3zM771 744.3h3v3.1h-3zM775 745.3h3v2.1h-3zM780 746.6h3v0.8h-3zM785 746.4h3v1h-3zM800 746.8h3v0.8h-3zM814 746.8h3v0.8h-3zM833 745.3h3v2.1h-3zM838 746.4h3v1h-3zM843 746.4h3v1h-3zM939 746.6h3v0.8h-3zM957 743.9h3v3.5h-3zM963 744.3h3v3.1h-3zM967 744.3h3v3.1h-3zM977 744.9h3v2.5h-3zM981 745.5h3v1.9h-3zM986 745.5h3v1.9h-3zM991 745.5h3v1.9h-3zM1001 745.9h3v1.5h-3zM1015 745.5h3v1.9h-3zM1020 745.5h3v1.9h-3zM1024 746.4h3v1h-3zM1029 746.6h3v0.8h-3zM1097 746.4h3v1h-3z" fill="#b2dfdb"/>
<path d="M37 747.4h3v1.2h-3zM47 747.4h3v3.3h-3zM52 747.4h3v3.3h-3zM56 747.4h3v4.3h-3zM70 747.4h3v4.1h-3zM75 747.4h3v5.3h-3zM80 747.4h3v5.3h-3zM94 747.4h3v4.1h-3zM99 747.4h3v5.3h-3zM114 747.4h3v4.1h-3zM147 747.4h3v2.3h-3zM152 747.4h3v4.3h-3zM157 747.4h3v5.3h-3zM162 747.4h3v6.2h-3zM171 747.4h3v6.2h-3zM181 747.4h3v7.2h-3zM186 747.4h3v7.2h-3zM190 747.4h3v7.2h-3zM287 747.4h3v1h-3zM291 747.4h3v2.7h-3zM296 747.4h3v2h-3zM301 747.4h3v3.7h-3zM310 747.4h3v2.7h-3zM315 747.4h3v3.7h-3zM320 747.4h3v4.3h-3zM344 747.4h3v1.6h-3zM349 747.4h3v5.7h-3zM368 747.4h3v6.2h-3zM373 747.4h3v9.9h-3zM377 747.4h3v11.9h-3zM382 747.4h3v12.9h-3zM392 747.4h3v11.5h-3zM521 747.4h3v1.2h-3zM526 747.4h3v3.3h-3zM545 747.4h3v2.3h-3zM550 747.4h3v3.3h-3zM555 747.4h3v3.3h-3zM560 747.4h3v3.3h-3zM564 747.4h3v4.1h-3zM578 747.4h3v2.3h-3zM588 747.4h3v2.3h-3zM593 747.4h3v3.3h-3zM598 747.4h3v3.3h-3zM660 747.4h3v1.2h-3zM727 747.4h3v1.2h-3zM732 747.4h3v1.6h-3zM847 747.4h3v1.2h-3zM852 747.4h3v2.3h-3zM857 747.4h3v3.3h-3zM862 747.4h3v4.3h-3zM910 747.4h3v1.2h-3zM914 747.4h3v2.3h-3zM919 747.4h3v2.3h-3zM1039 747.4h3v1.2h-3zM1044 747.4h3v2.3h-3zM1049 747.4h3v2.3h-3zM1053 747.4h3v3.3h-3zM1058 747.4h3v4.3h-3zM1063 747.4h3v4.3h-3zM1101 747.4h3v0.8h-3zM1106 747.4h3v1.2h-3z" fill="#ff5252"/>
<path d="M33 747.4h3v0.8h-3zM42 747.4h3v0.8h-3zM61 747.4h3v3.3h-3zM65 747.4h3v2.9h-3zM85 747.4h3v5.3h-3zM90 747.4h3v3.3h-3zM104 747.4h3v5.3h-3zM109 747.4h3v4.1h-3zM119 747.4h3v4.1h-3zM123 747.4h3v3.3h-3zM128 747.4h3v2.3h-3zM167 747.4h3v5.3h-3zM176 747.4h3v5.3h-3zM195 747.4h3v7.2h-3zM200 747.4h3v6.2h-3zM204 747.4h3v4.7h-3zM209 747.4h3v3.7h-3zM214 747.4h3v1.6h-3zM305 747.4h3v2.3h-3zM325 747.4h3v1h-3zM353 747.4h3v5.3h-3zM359 747.4h3v4.1h-3zM363 747.4h3v4.7h-3zM387 747.4h3v11.5h-3zM397 747.4h3v11.5h-3zM401 747.4h3v10.3h-3zM406 747.4h3v8.8h-3zM411 747.4h3v7.4h-3zM416 747.4h3v5.3h-3zM420 747.4h3v3.7h-3zM425 747.4h3v2.3h-3zM430 747.4h3v1h-3zM531 747.4h3v2h-3zM536 747.4h3v1.2h-3zM541 747.4h3v1h-3zM569 747.4h3v2.7h-3zM574 747.4h3v2.3h-3zM583 747.4h3v1.6h-3zM603 747.4h3v1h-3zM665 747.4h3v1h-3zM867 747.4h3v3.7h-3zM871 747.4h3v3.3h-3zM876 747.4h3v1.6h-3zM881 747.4h3v1.2h-3zM886 747.4h3v1h-3zM924 747.4h3v1.6h-3zM929 747.4h3v1.6h-3zM933 747.4h3v0.8h-3zM1068 747.4h3v4.1h-3zM1073 747.4h3v2.7h-3zM1077 747.4h3v1.2h-3z" fill="#ffcdd2"/>
<line x1="10" y1="747.4" x2="1416.5" y2="747.4" stroke="#9598a1" stroke-width="1" stroke-dasharray="6 5"/>
<polyline points="10.3,721.3 20.6,719.2 43.2,719.6 57.6,721.9 74.1,725.4 90.5,729.5 107,733 123.5,735.7 139.9,736.3 152.3,737.7 164.6,740.8 177,744.5 189.3,749.4 201.6,753.1 211.9,754.8 222.2,754.8 232.5,752.1 242.8,748.6 255.1,745.9 267.5,743.9 279.8,741.8 288.1,742 290,741.8 302.3,743.9 316.7,745.9 331.2,747.6 343.5,748.6 355.8,751.1 368.2,753.6 380.5,759.3 392.9,766.5 403.2,771.7 413.5,775.4 423.7,777.4 434,777.8 446.4,777.4 456.7,775.8 467,774.1 477.2,770.6 487.5,765.9 497.8,761.4 508.1,757.7 516.3,756.2 524.6,756.6 532.8,757.7 543.1,757.9 555.4,759.7 569.8,762.4 580,762.4 592.3,764.1 604.7,765.5 617,763.4 631.4,760.3 645.8,758.3 662.3,757.9 674.7,757.3 687,755.8 701.4,753.1 715.8,750.7 732.3,750.5 742.6,749.4 752.8,747 763.1,743.9 775.5,742.4 787.8,741.8 802.2,741.8 814.6,740.8 826.9,739.4 839.3,738.3 847.5,738.3 857.8,740.4 868.1,741.8 870,741.4 882.3,742.9 894.7,743.3 907,742.9 921.4,744.5 937.9,745.9 952.3,743.5 964.7,741.2 977,738.7 993.5,736.7 1005.8,735.2 1018.1,733.6 1030.5,733 1040.8,733.6 1051.1,734.6 1061.4,736.7 1071.6,738.3 1081.9,738.7 1092.2,738.1 1100.5,737.7 1107.7,738.3" fill="none" stroke="#ff6d00" stroke-width="1.2" stroke-linejoin="round"/>
<polyline points="10.3,716.7 24.7,717.1 32.9,719.6 43.2,719.8 53.5,723.3 67.9,728 82.3,731.5 90.5,732 98.8,735.7 111.1,737.7 123.5,739.2 131.7,737.7 139.9,734.6 147.1,736.7 156.4,742.4 164.6,745.3 172.8,747 181.1,751.1 191.4,756.2 201.6,758.3 207.8,758.7 216,757.3 223.3,753.6 230.5,747 236.6,742.4 242.8,740.8 249,741.4 255.1,743.3 261.3,741.8 267.5,740.2 275.7,740.2 281.9,739.8 288.1,742.4 290,743.9 298.2,745.9 310.6,747 320.9,749.7 331.2,749.4 339.4,748.4 345.6,750.1 350.7,754.8 357.9,755.2 364.1,754.8 372.3,761 378.5,768.6 384.7,773.3 390.8,775.8 399.1,779.9 411.4,782 421.7,780.3 434,778.3 446.4,775.4 454.6,773.7 460.8,773.3 467,770.6 475.2,764.5 485.5,757.7 495.8,753.6 504,751.5 510.2,751.7 518.4,753.6 526.6,758.9 532.8,759.3 541,758.7 551.3,761.4 565.7,764.5 578.1,765.1 580,764.5 590.3,766.1 599.1,768.2 608.8,764.5 621.2,758.9 633.5,755.6 641.7,756.2 652,757.7 664.4,758.9 676.7,755.6 689.1,753.1 701.4,750.1 711.7,747 719.9,747.6 728.1,750.7 734.3,751.5 744.6,748.6 752.8,744.9 759,740.8 767.2,739.8 777.5,740.8 787.8,741.4 800.2,741.2 812.5,740.2 822.8,737.7 830,736.1 839.3,736.3 847.5,738.1 855.7,741.8 861.9,744.5 870.1,745.3 870,744.9 880.3,744.5 894.7,742.4 906,742.2 915.3,745.3 923.5,746.6 935.8,746.6 942,744.9 952.3,739.8 962.6,738.1 972.9,736.3 983.2,735.7 993.5,735.2 1001.7,733.6 1012,732.2 1021.2,731.5 1032.6,732.6 1042.8,735 1053.1,737.3 1063.4,740.8 1071.6,741.4 1079.9,740.2 1086,737.7 1092.2,736.1 1098.4,736.7 1107.7,739.4" fill="none" stroke="#2962ff" stroke-width="1.2" stroke-linejoin="round"/>
</g>
<g shape-rendering="crispEdges">
<line x1="10" y1="611.5" x2="1478" y2="611.5" stroke="#e0e3eb" stroke-width="1"/>
<line x1="10" y1="712.4" x2="1478" y2="712.4" stroke="#e0e3eb" stroke-width="1"/>
<line x1="1416.5" y1="27" x2="1416.5" y2="814.5" stroke="#4f525e" stroke-width="1"/>
<line x1="10" y1="787.3" x2="1478" y2="787.3" stroke="#4f525e" stroke-width="1"/>
</g>
<text x="18.5" y="46.02" font-size="12" fill="#51545f" textLength="250.8" lengthAdjust="spacingAndGlyphs">U.S. Dollar / Canadian Dollar · 1D · FOREXCOM</text>
<text x="277" y="46.02" font-size="12" fill="#51545f" textLength="7.2" lengthAdjust="spacingAndGlyphs">O</text>
<text x="286.3" y="46.02" font-size="12" fill="#ef5350" textLength="40.2" lengthAdjust="spacingAndGlyphs">1.40412</text>
<text x="335.1" y="46.02" font-size="12" fill="#51545f" textLength="6.8" lengthAdjust="spacingAndGlyphs">H</text>
<text x="343.6" y="46.02" font-size="12" fill="#ef5350" textLength="40" lengthAdjust="spacingAndGlyphs">1.40412</text>
<text x="392" y="46.02" font-size="12" fill="#51545f" textLength="4.6" lengthAdjust="spacingAndGlyphs">L</text>
<text x="397.6" y="46.02" font-size="12" fill="#ef5350" textLength="41.7" lengthAdjust="spacingAndGlyphs">1.40020</text>
<text x="447" y="46.02" font-size="12" fill="#51545f" textLength="6.4" lengthAdjust="spacingAndGlyphs">C</text>
<text x="454.7" y="46.02" font-size="12" fill="#ef5350" textLength="40.8" lengthAdjust="spacingAndGlyphs">1.40025</text>
<text x="504.2" y="46.02" font-size="12" fill="#ef5350" textLength="95.8" lengthAdjust="spacingAndGlyphs">−0.00178 (−0.13%)</text>
<text x="609.3" y="46.02" font-size="12" fill="#ef5350" textLength="95.8" lengthAdjust="spacingAndGlyphs">−0.00178 (−0.13%)</text>
<text x="18.5" y="63.32" font-size="12" fill="#51545f" textLength="87.1" lengthAdjust="spacingAndGlyphs">SMA (200, close)</text>
<text x="114" y="63.32" font-size="12" fill="#e65100" textLength="40.7" lengthAdjust="spacingAndGlyphs">1.39363</text>
<text x="18.5" y="79.92" font-size="12" fill="#51545f" textLength="80.5" lengthAdjust="spacingAndGlyphs">SMA (50, close)</text>
<text x="107.5" y="79.92" font-size="12" fill="#2962ff" textLength="41.6" lengthAdjust="spacingAndGlyphs">1.39410</text>
<text x="18.5" y="96.82" font-size="12" fill="#51545f" textLength="127.5" lengthAdjust="spacingAndGlyphs">Ichimoku (9, 26, 52, 26)</text>
<text x="154.4" y="96.82" font-size="12" fill="#a5d6a7" textLength="40.7" lengthAdjust="spacingAndGlyphs">1.40241</text>
<text x="204.3" y="96.82" font-size="12" fill="#ef9a9a" textLength="40.4" lengthAdjust="spacingAndGlyphs">1.39336</text>
<text x="18.1" y="631.32" font-size="12" fill="#51545f" textLength="76" lengthAdjust="spacingAndGlyphs">RSI (14, close)</text>
<text x="102.3" y="631.32" font-size="12" fill="#7e57c2" textLength="28.8" lengthAdjust="spacingAndGlyphs">49.74</text>
<text x="138.9" y="631.32" font-size="12" fill="#fdd835" textLength="28.8" lengthAdjust="spacingAndGlyphs">57.54</text>
<text x="18.1" y="732.12" font-size="12" fill="#51545f" textLength="110.5" lengthAdjust="spacingAndGlyphs">MACD (12, 26, close)</text>
<text x="136.8" y="732.12" font-size="12" fill="#ff5252" textLength="47.8" lengthAdjust="spacingAndGlyphs">−0.00050</text>
<text x="192" y="732.12" font-size="12" fill="#2962ff" textLength="42" lengthAdjust="spacingAndGlyphs">0.00278</text>
<text x="241.4" y="732.12" font-size="12" fill="#ff6d00" textLength="42.1" lengthAdjust="spacingAndGlyphs">0.00327</text>
<text x="1444.5" y="63.32" font-size="12" fill="#4a4e5a" text-anchor="middle" textLength="37.8" lengthAdjust="spacingAndGlyphs">1.43000</text>
<text x="1444.5" y="96.52" font-size="12" fill="#4a4e5a" text-anchor="middle" textLength="37.8" lengthAdjust="spacingAndGlyphs">1.42500</text>
<text x="1444.5" y="130.42" font-size="12" fill="#4a4e5a" text-anchor="middle" textLength="37.8" lengthAdjust="spacingAndGlyphs">1.42000</text>
<text x="1444.5" y="163.62" font-size="12" fill="#4a4e5a" text-anchor="middle" textLength="37.8" lengthAdjust="spacingAndGlyphs">1.41500</text>
<text x="1444.5" y="197.52" font-size="12" fill="#4a4e5a" text-anchor="middle" textLength="37.8" lengthAdjust="spacingAndGlyphs">1.41000</text>
<text x="1444.5" y="231.32" font-size="12" fill="#4a4e5a" text-anchor="middle" textLength="37.8" lengthAdjust="spacingAndGlyphs">1.40500</text>
<text x="1444.5" y="299.32" font-size="12" fill="#4a4e5a" text-anchor="middle" textLength="37.8" lengthAdjust="spacingAndGlyphs">1.39500</text>
<text x="1444.5" y="374.62" font-size="12" fill="#4a4e5a" text-anchor="middle" textLength="37.8" lengthAdjust="spacingAndGlyphs">1.38400</text>
<text x="1444.5" y="415.72" font-size="12" fill="#4a4e5a" text-anchor="middle" textLength="37.8" lengthAdjust="spacingAndGlyphs">1.37800</text>
<text x="1444.5" y="457.52" font-size="12" fill="#4a4e5a" text-anchor="middle" textLength="37.8" lengthAdjust="spacingAndGlyphs">1.37200</text>
<text x="1444.5" y="499.32" font-size="12" fill="#4a4e5a" text-anchor="middle" textLength="37.8" lengthAdjust="spacingAndGlyphs">1.36600</text>
<text x="1444.5" y="533.42" font-size="12" fill="#4a4e5a" text-anchor="middle" textLength="37.8" lengthAdjust="spacingAndGlyphs">1.36100</text>
<text x="1444.5" y="567.82" font-size="12" fill="#4a4e5a" text-anchor="middle" textLength="37.8" lengthAdjust="spacingAndGlyphs">1.35600</text>
<text x="1444.5" y="596.62" font-size="12" fill="#4a4e5a" text-anchor="middle" textLength="37.8" lengthAdjust="spacingAndGlyphs">1.35200</text>
<text x="1437.5" y="685.72" font-size="12" fill="#4a4e5a" text-anchor="middle" textLength="27.5" lengthAdjust="spacingAndGlyphs">40.00</text>
<rect x="1420" y="30.5" width="54" height="27" rx="4" fill="#ffffff" stroke="#eef0f6" stroke-width="1"/>
<text x="1440" y="48.72" font-size="12" fill="#131722" text-anchor="middle" textLength="22" lengthAdjust="spacingAndGlyphs">CAD</text>
<rect x="1417" y="174" width="50.5" height="16.5" fill="#2962ff"/>
<text x="1444.5" y="186.57" font-size="12" fill="#ffffff" font-weight="bold" text-anchor="middle" textLength="37.8" lengthAdjust="spacingAndGlyphs">1.41159</text>
<rect x="1417" y="235" width="50.5" height="15.6" fill="#a5d6a7"/>
<text x="1444.5" y="247.12" font-size="12" fill="#131722" text-anchor="middle" textLength="37.8" lengthAdjust="spacingAndGlyphs">1.40241</text>
<rect x="1417" y="251.1" width="55" height="30" fill="#ef5350"/>
<text x="1444.5" y="264.22" font-size="12" fill="#ffffff" font-weight="bold" text-anchor="middle" textLength="39" lengthAdjust="spacingAndGlyphs">1.40025</text>
<text x="1444.5" y="277.72" font-size="12" fill="#ffd9d6" text-anchor="middle" textLength="42" lengthAdjust="spacingAndGlyphs">03:38:26</text>
<rect x="1417" y="293.3" width="50.5" height="15.1" fill="#2962ff"/>
<text x="1444.5" y="305.17" font-size="12" fill="#ffffff" font-weight="bold" text-anchor="middle" textLength="37.8" lengthAdjust="spacingAndGlyphs">1.39410</text>
<rect x="1417" y="308.4" width="50.5" height="15.8" fill="#e65100"/>
<text x="1444.5" y="320.62" font-size="12" fill="#ffffff" font-weight="bold" text-anchor="middle" textLength="37.8" lengthAdjust="spacingAndGlyphs">1.39363</text>
<rect x="1417" y="324.2" width="50.5" height="16.1" fill="#ef9a9a"/>
<text x="1444.5" y="336.57" font-size="12" fill="#131722" text-anchor="middle" textLength="37.8" lengthAdjust="spacingAndGlyphs">1.39336</text>
<rect x="1389.5" y="570" width="26" height="16.5" fill="#e8effc"/>
<text x="1402.5" y="582.44" font-size="11.5" fill="#131722" text-anchor="middle" textLength="18.5" lengthAdjust="spacingAndGlyphs">Low</text>
<rect x="1417" y="570" width="51" height="16.5" fill="#e3ecfb"/>
<text x="1444.5" y="582.62" font-size="12" fill="#131722" text-anchor="middle" textLength="37.8" lengthAdjust="spacingAndGlyphs">1.35401</text>
<rect x="1417" y="638.9" width="40" height="16" fill="#fdd835"/>
<text x="1437.5" y="651.22" font-size="12" fill="#131722" text-anchor="middle" textLength="27.5" lengthAdjust="spacingAndGlyphs">57.54</text>
<rect x="1417" y="654.9" width="40" height="15.9" fill="#7e57c2"/>
<text x="1437.5" y="667.17" font-size="12" fill="#ffffff" font-weight="bold" text-anchor="middle" textLength="27.5" lengthAdjust="spacingAndGlyphs">49.74</text>
<rect x="1417" y="713" width="50.5" height="12.9" fill="#ff6d00"/>
<text x="1444.5" y="723.77" font-size="12" fill="#ffffff" font-weight="bold" text-anchor="middle" textLength="37.8" lengthAdjust="spacingAndGlyphs">0.00327</text>
<rect x="1417" y="725.9" width="50.5" height="14.9" fill="#2962ff"/>
<text x="1444.5" y="737.67" font-size="12" fill="#ffffff" font-weight="bold" text-anchor="middle" textLength="37.8" lengthAdjust="spacingAndGlyphs">0.00278</text>
<rect x="1417" y="740.8" width="57" height="16.2" fill="#ff5252"/>
<text x="1445.5" y="753.22" font-size="12" fill="#ffffff" font-weight="bold" text-anchor="middle" textLength="45" lengthAdjust="spacingAndGlyphs">−0.00050</text>
<text x="38" y="804.568" font-size="11.3" fill="#4a4e5a" font-weight="bold" text-anchor="middle">2025</text>
<text x="144" y="804.568" font-size="11.3" fill="#4a4e5a" text-anchor="middle">Feb</text>
<text x="239.5" y="804.568" font-size="11.3" fill="#4a4e5a" text-anchor="middle">Mar</text>
<text x="340.5" y="804.568" font-size="11.3" fill="#4a4e5a" text-anchor="middle">Apr</text>
<text x="445.7" y="804.568" font-size="11.3" fill="#4a4e5a" text-anchor="middle">May</text>
<text x="551.5" y="804.568" font-size="11.3" fill="#4a4e5a" text-anchor="middle">Jun</text>
<text x="652" y="804.568" font-size="11.3" fill="#4a4e5a" text-anchor="middle">Jul</text>
<text x="762.5" y="804.568" font-size="11.3" fill="#4a4e5a" text-anchor="middle">Aug</text>
<text x="863.2" y="804.568" font-size="11.3" fill="#4a4e5a" text-anchor="middle">Sep</text>
<text x="968.5" y="804.568" font-size="11.3" fill="#4a4e5a" text-anchor="middle">Oct</text>
<text x="1079" y="804.568" font-size="11.3" fill="#4a4e5a" text-anchor="middle">Nov</text>
<text x="1174.9" y="804.568" font-size="11.3" fill="#4a4e5a" text-anchor="middle">Dec</text>
<text x="1285.2" y="804.568" font-size="11.3" fill="#4a4e5a" font-weight="bold" text-anchor="middle">2026</text>
<text x="1390.3" y="804.568" font-size="11.3" fill="#4a4e5a" text-anchor="middle">Feb</text>
<text x="10" y="18.62" font-size="12" fill="#d6d6d6" font-weight="bold" textLength="368" lengthAdjust="spacingAndGlyphs">jepinedac created with TradingView.com, Nov 11, 2025 13:21 UTC-5</text>
<g fill="#e2e2e2"><path d="M11.8 836.9h12.8v15.1h-6.4v-8.8h-6.4z"/><circle cx="28.9" cy="839.9" r="3"/><path d="M34.3 836.9h7.6l-5.6 15.1h-7.5z"/></g>
<text x="48.6" y="852" font-size="21" fill="#e2e2e2" font-weight="bold" textLength="122.2" lengthAdjust="spacingAndGlyphs">TradingView</text>
</svg></body></html>
